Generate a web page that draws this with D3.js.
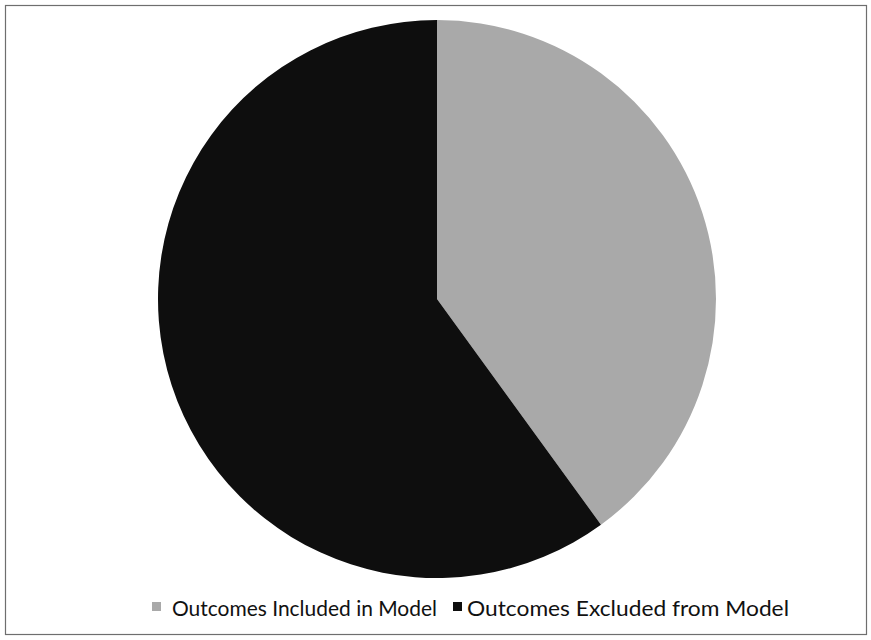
<!DOCTYPE html>
<html><head><meta charset="utf-8">
<script src="https://cdn.jsdelivr.net/npm/d3@7/dist/d3.min.js"></script>
<style>body{margin:0;background:#fff}svg{display:block}</style>
</head><body>
<script>
const categories = ["Outcomes Included in Model", "Outcomes Excluded from Model"];
const values = [40, 60];
const colors = ["#a9a9a9", "#0e0e0e"];

const W = 871, H = 640;
const svg = d3.select("body").append("svg").attr("width", W).attr("height", H);

svg.append("rect").attr("x", 5.5).attr("y", 5.5).attr("width", 861).attr("height", 629)
  .attr("fill", "#fff").attr("stroke", "#6e6e6e").attr("stroke-width", 1.2);

const cx = 437, cy = 299, r = 279;
const pie = d3.pie().sort(null).value(d => d)(values);
const arc = d3.arc().innerRadius(0).outerRadius(r);
const g = svg.append("g").attr("transform", `translate(${cx},${cy})`);
g.selectAll("path").data(pie).join("path")
  .attr("d", arc).attr("fill", (d, i) => colors[i]);

// legend
const legend = svg.append("g");
const items = [{x: 152, tx: 172, w: 265}, {x: 453, tx: 467, w: 322}];
categories.forEach((c, i) => {
  legend.append("rect").attr("x", items[i].x).attr("y", 602).attr("width", 9).attr("height", 9)
    .attr("fill", colors[i]);
  legend.append("text").attr("x", items[i].tx).attr("y", 616)
    .attr("font-family", "Lato, sans-serif").attr("font-size", 20.5)
    .attr("textLength", items[i].w).attr("lengthAdjust", "spacingAndGlyphs")
    .attr("fill", "#111").text(c);
});
</script>
</body></html>
